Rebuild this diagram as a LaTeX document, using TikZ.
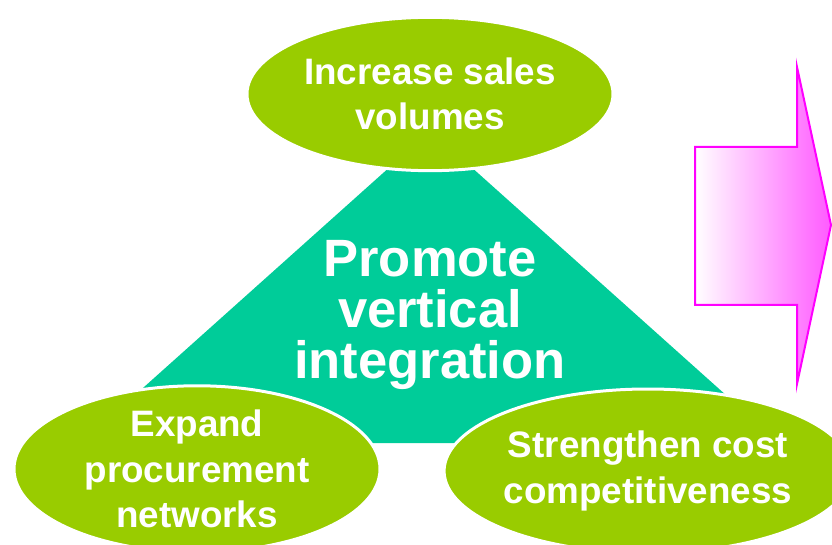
\documentclass[tikz,border=0pt]{standalone}
\usepackage{fontspec}
\setmainfont{Liberation Sans}
\usepackage{tikz}
\usetikzlibrary{shapes.geometric}

\definecolor{leafgreen}{RGB}{153,204,0}
\definecolor{seateal}{RGB}{0,204,153}
\definecolor{hotpink}{RGB}{255,0,255}
\definecolor{softpink}{RGB}{255,90,255}

\tikzset{
  goal/.style={ellipse, fill=leafgreen, draw=white, line width=2.25pt, inner sep=0pt,
    align=center, text=white, font=\fontsize{27.6}{34}\selectfont\bfseries},
  core/.style={align=center, text=white, font=\fontsize{39.4}{38}\selectfont\bfseries}
}

\begin{document}
\begin{tikzpicture}[x=0.75pt,y=0.75pt,yscale=-1,xscale=1]
\useasboundingbox (0,0) rectangle (832,545);
%Shape: Triangle [id:tri01] 
\coordinate (apex) at (430.5,130.6);
\coordinate (baseL) at (81.5,443);
\coordinate (baseR) at (779.5,443);
\fill [seateal] (apex) -- (baseR) -- (baseL) -- cycle;
\node [core] (integ) at (430,315) {Promote\\vertical\\integration};
%Shape: Ellipse [id:ell01] 
\node [goal, minimum width=274.5pt, minimum height=115pt] (sales) at (430,94) {Increase sales\\volumes};
%Shape: Ellipse [id:ell02] 
\node [goal, minimum width=274.5pt, minimum height=123pt] (procure) at (197,469) {Expand\\procurement\\networks};
%Shape: Ellipse [id:ell03] 
\node [goal, minimum width=285pt, minimum height=123pt] (cost) at (648,471) {Strengthen cost\\competitiveness};
%Shape: Right Arrow [id:arr01] 
\draw [draw=hotpink, line width=1.5pt, line join=miter, left color=white, right color=softpink]
  (695,147) -- (797,147) -- (797,67) -- (831,225) -- (797,384) -- (797,305) -- (695,305) -- cycle;
\end{tikzpicture}
\end{document}
